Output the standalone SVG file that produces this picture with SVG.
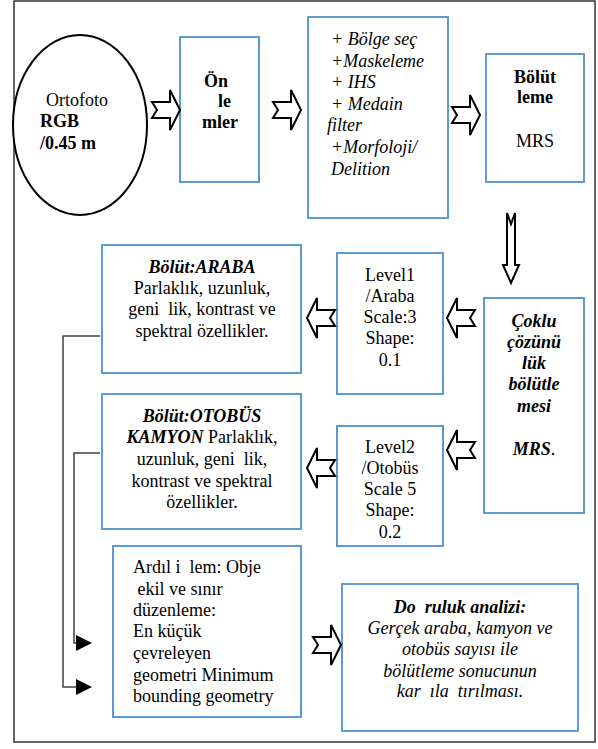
<svg xmlns="http://www.w3.org/2000/svg" width="598" height="749" viewBox="0 0 598 749">
<style>
  .box { fill: #fff; stroke: #5b9bd5; stroke-width: 2; }
  .arr { fill: #fff; stroke: #000; stroke-width: 2; stroke-linejoin: miter; }
  .conn { fill: none; stroke: #404040; stroke-width: 1.5; }
  text { font-family: "Liberation Serif", "Times New Roman", serif; font-size: 18px; fill: #000; }
  .b { font-weight: bold; }
  .i { font-style: italic; }
  .bi { font-weight: bold; font-style: italic; }
  .c { text-anchor: middle; }
</style>
<defs>
  <path id="ra" d="M0,-8 L18,-8 L18,-20 L28,0 L18,20 L18,8 L0,8 L5,0 Z"/>
  <path id="la" d="M0,-8 L-18,-8 L-18,-20 L-28,0 L-18,20 L-18,8 L0,8 L-5,0 Z"/>
</defs>
<rect x="14" y="1" width="581" height="741" fill="#fff" stroke="#333" stroke-width="1.5"/>

<g id="ortofoto">
  <ellipse cx="80" cy="125" rx="67" ry="90" fill="#fff" stroke="#000" stroke-width="2"/>
  <text x="46" y="106">Ortofoto</text>
  <text x="40" y="127" class="b">RGB</text>
  <text x="40" y="149" class="b">/0.45 m</text>
</g>

<g id="onisleme">
  <rect class="box" x="180" y="37" width="79" height="145"/>
  <text x="204" y="87" class="b">Ön</text>
  <text x="218" y="107" class="b">le</text>
  <text x="202" y="128" class="b">mler</text>
</g>

<g id="islemler">
  <rect class="box" x="308" y="17" width="140" height="201"/>
  <text x="331" y="45" class="i" xml:space="preserve">+ Bölge seç</text>
  <text x="331" y="67" class="i">+Maskeleme</text>
  <text x="331" y="88" class="i" xml:space="preserve">+ IHS</text>
  <text x="331" y="110" class="i" xml:space="preserve">+ Medain</text>
  <text x="327" y="131" class="i">filter</text>
  <text x="331" y="153" class="i">+Morfoloji/</text>
  <text x="331" y="175" class="i">Delition</text>
</g>

<g id="bolutleme">
  <rect class="box" x="486" y="54" width="98" height="128"/>
  <text x="535" y="83" class="b c">Bölüt</text>
  <text x="535" y="103" class="b c">leme</text>
  <text x="535" y="147" class="c">MRS</text>
</g>

<g id="coklu">
  <rect class="box" x="484" y="298" width="100" height="215"/>
  <text x="534" y="327" class="bi c">Çoklu</text>
  <text x="534" y="348" class="bi c">çözünü</text>
  <text x="534" y="369" class="bi c">lük</text>
  <text x="534" y="390" class="bi c">bölütle</text>
  <text x="534" y="412" class="bi c">mesi</text>
  <text x="534" y="455" class="c"><tspan class="bi">MRS</tspan>.</text>
</g>

<g id="level1">
  <rect class="box" x="337" y="253" width="106" height="141"/>
  <text x="390" y="281" class="c">Level1</text>
  <text x="390" y="302" class="c">/Araba</text>
  <text x="390" y="323" class="c">Scale:3</text>
  <text x="390" y="344" class="c">Shape:</text>
  <text x="390" y="366" class="c">0.1</text>
</g>

<g id="level2">
  <rect class="box" x="337" y="426" width="106" height="120"/>
  <text x="390" y="453" class="c">Level2</text>
  <text x="390" y="474" class="c">/Otobüs</text>
  <text x="390" y="495" class="c">Scale 5</text>
  <text x="390" y="516" class="c">Shape:</text>
  <text x="390" y="538" class="c">0.2</text>
</g>

<g id="araba">
  <rect class="box" x="102" y="245" width="199" height="128"/>
  <text x="202" y="273" class="bi c">Bölüt:ARABA</text>
  <text x="202" y="294" class="c">Parlaklık, uzunluk,</text>
  <text x="202" y="315" class="c" xml:space="preserve">geni  lik, kontrast ve</text>
  <text x="202" y="337" class="c">spektral özellikler.</text>
</g>

<g id="otobus">
  <rect class="box" x="102" y="394" width="199" height="135"/>
  <text x="202" y="422" class="bi c">Bölüt:OTOBÜS</text>
  <text x="202" y="443" class="c"><tspan class="bi">KAMYON</tspan> Parlaklık,</text>
  <text x="202" y="465" class="c" xml:space="preserve">uzunluk, geni  lik,</text>
  <text x="202" y="487" class="c">kontrast ve spektral</text>
  <text x="202" y="508" class="c">özellikler.</text>
</g>

<g id="ardil">
  <rect class="box" x="113" y="546" width="188" height="171"/>
  <text x="133" y="573" xml:space="preserve">Ardıl i  lem: Obje</text>
  <text x="133" y="595" xml:space="preserve"> ekil ve sınır</text>
  <text x="133" y="616">düzenleme:</text>
  <text x="133" y="637">En küçük</text>
  <text x="133" y="659">çevreleyen</text>
  <text x="133" y="681">geometri Minimum</text>
  <text x="133" y="702">bounding geometry</text>
</g>

<g id="dogruluk">
  <rect class="box" x="342" y="584" width="236" height="147"/>
  <text x="460" y="613" class="bi c" xml:space="preserve">Do  ruluk analizi:</text>
  <text x="460" y="634" class="i c">Gerçek araba, kamyon ve</text>
  <text x="460" y="655" class="i c">otobüs sayısı ile</text>
  <text x="460" y="677" class="i c">bölütleme sonucunun</text>
  <text x="460" y="697" class="i c" xml:space="preserve">kar  ıla  tırılması.</text>
</g>

<g id="connectors">
  <use href="#ra" class="arr" x="152" y="110"/>
  <use href="#ra" class="arr" x="273" y="110"/>
  <use href="#ra" class="arr" x="452" y="115"/>
  <use href="#ra" class="arr" x="313" y="645"/>
  <use href="#la" class="arr" x="475" y="318"/>
  <use href="#la" class="arr" x="475" y="450"/>
  <use href="#la" class="arr" x="335" y="318"/>
  <use href="#la" class="arr" x="335" y="468"/>
  <path class="arr" d="M507,213 L511,224 L515,213 L515,265 L519,265 L511,283 L503,265 L507,265 Z"/>
  <path class="conn" d="M100,336 H63 V687 H77"/>
  <path class="conn" d="M100,453 H74 V643 H77"/>
  <polygon points="76,679 92,687 76,695" fill="#000"/>
  <polygon points="76,635 92,643 76,651" fill="#000"/>
</g>
</svg>
